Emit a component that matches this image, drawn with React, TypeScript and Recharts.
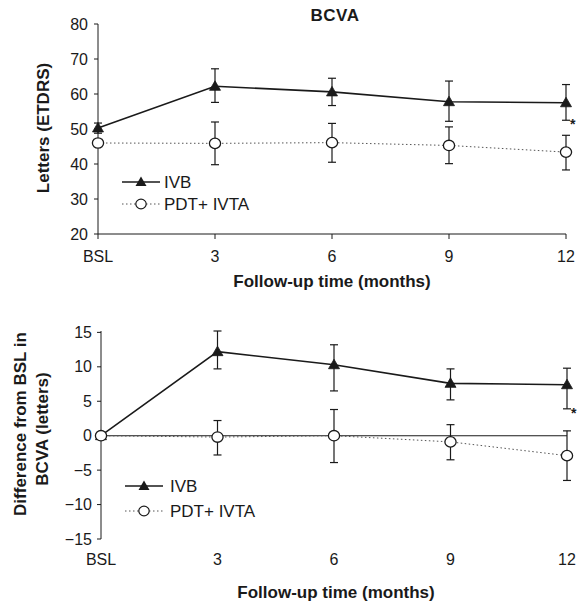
import React from 'react';
import { LineChart, Line, XAxis, YAxis, ErrorBar, ReferenceLine, Legend, Label, LabelList } from 'recharts';

const months = ['BSL', '3', '6', '9', '12'];

// BCVA in letters (mean, lower and upper end of the error bar)
const ivbMean = [50.3, 62.2, 60.6, 57.8, 57.5];
const ivbLow = [48.8, 57.6, 56.7, 52.2, 52.5];
const ivbHigh = [51.7, 67.2, 64.5, 63.7, 62.7];
const pdtMean = [46.0, 45.9, 46.1, 45.3, 43.4];
const pdtLow = [46.0, 39.8, 40.5, 40.1, 38.3];
const pdtHigh = [46.0, 52.0, 51.6, 50.6, 48.2];

// change from BSL in letters
const ivbDiff = [0, 12.2, 10.3, 7.6, 7.4];
const ivbDiffLow = [0, 9.7, 6.5, 5.2, 3.9];
const ivbDiffHigh = [0, 15.2, 13.2, 9.7, 9.8];
const pdtDiff = [0, -0.2, 0, -0.9, -2.9];
const pdtDiffLow = [0, -2.8, -3.9, -3.5, -6.5];
const pdtDiffHigh = [0, 2.2, 3.8, 1.6, 0.7];

const significance = ['', '', '', '', '*'];

const topTicks = [20, 30, 40, 50, 60, 70, 80];
const bottomTicks = [-15, -10, -5, 0, 5, 10, 15];

const seriesNames = { ivb: 'IVB', pdt: 'PDT+ IVTA' };

const FONT = '"Liberation Sans", Arial, Helvetica, sans-serif';
const INK = '#1a1a1a';

function buildRows(iv: number[], ivL: number[], ivH: number[], pd: number[], pdL: number[], pdH: number[]) {
  return months.map((t, i) => ({
    t,
    ivb: iv[i],
    ivbErr: [iv[i] - ivL[i], ivH[i] - iv[i]],
    pdt: pd[i],
    pdtErr: [pd[i] - pdL[i], pdH[i] - pd[i]],
    star: significance[i] ? ivL[i] : null,
    sig: significance[i],
  }));
}

const topData = buildRows(ivbMean, ivbLow, ivbHigh, pdtMean, pdtLow, pdtHigh);
const bottomData = buildRows(ivbDiff, ivbDiffLow, ivbDiffHigh, pdtDiff, pdtDiffLow, pdtDiffHigh);

const triangle = (cx: number, cy: number) => `M${cx},${cy - 5.5}L${cx - 5.5},${cy + 4}L${cx + 5.5},${cy + 4}Z`;

const TriangleDot = (props: any) => {
  const { cx, cy, index } = props;
  if (cx == null || cy == null) return <g key={index} />;
  return <path key={index} d={triangle(cx, cy)} fill={INK} stroke={INK} strokeWidth={0.8} />;
};

const CircleDot = (props: any) => {
  const { cx, cy, index } = props;
  if (cx == null || cy == null) return <g key={index} />;
  return <ellipse key={index} cx={cx} cy={cy} rx={5.6} ry={5.2} fill="#fff" stroke={INK} strokeWidth={1.3} />;
};

const StarLabel = (props: any) => {
  const { x, y, value } = props;
  if (!value || x == null || y == null) return null;
  return (
    <text x={x + 4} y={y + 9} fontSize={14} fontWeight="bold" fill={INK} fontFamily={FONT}>
      {value}
    </text>
  );
};

const LegendBox = ({ payload, gap, textX }: any) => {
  const items = (payload || []).filter((p: any) => p.dataKey === 'ivb' || p.dataKey === 'pdt');
  return (
    <svg width={170} height={gap + 20} style={{ display: 'block' }}>
      {items.map((p: any, i: number) => {
        const y = 10 + i * gap;
        const solid = p.dataKey === 'ivb';
        return (
          <g key={p.dataKey}>
            <line
              x1={8}
              x2={46}
              y1={y}
              y2={y}
              stroke={solid ? INK : '#555'}
              strokeWidth={solid ? 1.6 : 1}
              strokeDasharray={solid ? undefined : '1.5 2.5'}
            />
            {solid ? (
              <path d={triangle(27, y)} fill={INK} />
            ) : (
              <ellipse cx={27} cy={y} rx={5.2} ry={4.8} fill="#fff" stroke={INK} strokeWidth={1.2} />
            )}
            <text x={textX} y={y + 5.8} fontSize={17} fill={INK} fontFamily={FONT}>
              {p.value}
            </text>
          </g>
        );
      })}
    </svg>
  );
};

const YTitle = ({ viewBox, lines }: any) => {
  const { y, height } = viewBox;
  const mid = y + height / 2;
  return (
    <g>
      {lines.map((l: any, i: number) => (
        <text
          key={i}
          x={l.x}
          y={mid + l.dy}
          transform={`rotate(-90 ${l.x} ${mid + l.dy})`}
          textAnchor="middle"
          dominantBaseline="central"
          fontSize={17}
          fontWeight="bold"
          fill={INK}
          fontFamily={FONT}
        >
          {l.text}
        </text>
      ))}
    </g>
  );
};

const XTitle = ({ viewBox, dy, dx }: any) => {
  const { x, y, width } = viewBox;
  return (
    <text x={x + width / 2 + dx} y={y + dy} textAnchor="middle" fontSize={17} fontWeight="bold" fill={INK} fontFamily={FONT}>
      Follow-up time (months)
    </text>
  );
};

const minus = (v: number) => String(v).replace('-', '\u2212');

const tickStyle = { fill: INK, fontSize: 16, fontFamily: FONT };

export default function App() {
  return (
    <div style={{ position: 'absolute', left: 0, top: 0, width: 579, height: 604, background: '#fff', fontFamily: FONT }}>
      <div
        style={{
          position: 'absolute',
          left: 285,
          top: 6,
          width: 100,
          textAlign: 'center',
          fontSize: 17,
          fontWeight: 'bold',
          color: INK,
          letterSpacing: 0.5,
        }}
      >
        BCVA
      </div>

      <div style={{ position: 'absolute', left: 0, top: 0 }}>
        <LineChart width={579} height={300} data={topData} margin={{ top: 24, right: 13, left: 0, bottom: 36 }}>
          <XAxis
            dataKey="t"
            height={30}
            stroke={INK}
            tickSize={5}
            tickMargin={12}
            tick={tickStyle}
            interval={0}
          >
            <Label content={(p: any) => <XTitle {...p} dy={53} dx={0} />} />
          </XAxis>
          <YAxis
            width={98}
            domain={[20, 80]}
            ticks={topTicks}
            interval={0}
            stroke={INK}
            tickSize={4}
            tickMargin={6}
            tick={tickStyle}
          >
            <Label content={(p: any) => <YTitle {...p} lines={[{ text: 'Letters (ETDRS)', x: 43, dy: -1 }]} />} />
          </YAxis>
          <Legend
            layout="vertical"
            align="center"
            verticalAlign="middle"
            wrapperStyle={{ left: 114, top: 172, width: 170 }}
            content={(p: any) => <LegendBox {...p} gap={22} textX={50} />}
          />
          <Line
            dataKey="ivb"
            name={seriesNames.ivb}
            stroke={INK}
            strokeWidth={1.6}
            dot={TriangleDot}
            activeDot={false}
            isAnimationActive={false}
          >
            <ErrorBar dataKey="ivbErr" width={4} strokeWidth={1.2} stroke={INK} direction="y" />
          </Line>
          <Line
            dataKey="pdt"
            name={seriesNames.pdt}
            stroke="#555"
            strokeWidth={1}
            strokeDasharray="1.5 2.5"
            dot={CircleDot}
            activeDot={false}
            isAnimationActive={false}
          >
            <ErrorBar dataKey="pdtErr" width={4} strokeWidth={1.2} stroke={INK} direction="y" />
          </Line>
          <Line dataKey="star" stroke="none" dot={false} activeDot={false} legendType="none" isAnimationActive={false}>
            <LabelList dataKey="sig" content={StarLabel} />
          </Line>
        </LineChart>
      </div>

      <div style={{ position: 'absolute', left: 0, top: 300 }}>
        <LineChart width={579} height={304} data={bottomData} margin={{ top: 31, right: 12, left: 0, bottom: 35 }}>
          <XAxis
            dataKey="t"
            height={30}
            axisLine={false}
            tickLine={false}
            tickSize={0}
            tickMargin={15}
            tick={tickStyle}
            interval={0}
          >
            <Label content={(p: any) => <XTitle {...p} dy={59} dx={2} />} />
          </XAxis>
          <YAxis
            width={101}
            domain={[-15, 15]}
            ticks={bottomTicks}
            interval={0}
            stroke={INK}
            tickSize={4}
            tickMargin={5}
            tick={tickStyle}
            tickFormatter={minus}
          >
            <Label
              content={(p: any) => (
                <YTitle
                  {...p}
                  lines={[
                    { text: 'Difference from BSL in', x: 20, dy: -11 },
                    { text: 'BCVA (letters)', x: 42, dy: -6 },
                  ]}
                />
              )}
            />
          </YAxis>
          <ReferenceLine y={0} stroke={INK} strokeWidth={1.1} />
          <Legend
            layout="vertical"
            align="center"
            verticalAlign="middle"
            wrapperStyle={{ left: 117, top: 176, width: 170 }}
            content={(p: any) => <LegendBox {...p} gap={25} textX={53} />}
          />
          <Line
            dataKey="ivb"
            name={seriesNames.ivb}
            stroke={INK}
            strokeWidth={1.6}
            dot={TriangleDot}
            activeDot={false}
            isAnimationActive={false}
          >
            <ErrorBar dataKey="ivbErr" width={4} strokeWidth={1.2} stroke={INK} direction="y" />
          </Line>
          <Line
            dataKey="pdt"
            name={seriesNames.pdt}
            stroke="#555"
            strokeWidth={1}
            strokeDasharray="1.5 2.5"
            dot={CircleDot}
            activeDot={false}
            isAnimationActive={false}
          >
            <ErrorBar dataKey="pdtErr" width={4} strokeWidth={1.2} stroke={INK} direction="y" />
          </Line>
          <Line dataKey="star" stroke="none" dot={false} activeDot={false} legendType="none" isAnimationActive={false}>
            <LabelList dataKey="sig" content={StarLabel} />
          </Line>
        </LineChart>
      </div>
    </div>
  );
}
